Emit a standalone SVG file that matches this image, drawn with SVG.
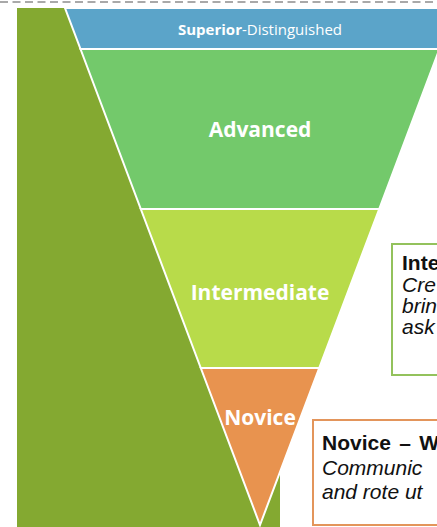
<svg xmlns="http://www.w3.org/2000/svg" width="437" height="527" viewBox="0 0 437 527">
  <style>
    .band { stroke: #ffffff; stroke-width: 2; stroke-linejoin: miter; }
    .lvl { font-family: "Open Sans", "Liberation Sans", sans-serif; font-weight: bold; fill: #ffffff; text-anchor: middle; }
    .box { fill: #ffffff; stroke-width: 2; }
    .head { font-family: "Liberation Sans", Arial, sans-serif; font-weight: bold; font-size: 21px; fill: #111111; }
    .desc { font-family: "Liberation Sans", Arial, sans-serif; font-style: italic; font-size: 21px; fill: #111111; }
  </style>
  <rect x="0" y="0" width="437" height="527" fill="#ffffff"/>
  <line x1="0" y1="2" x2="437" y2="2" stroke="#a9a9a9" stroke-width="2" stroke-dasharray="8 4.5"/>

  <g id="background">
    <rect x="17" y="8" width="263" height="519" fill="#84a931"/>
  </g>

  <g id="superior">
    <polygon class="band" points="65,8 455,8 439.5,49 80.5,49" fill="#5ba4c9"/>
    <text class="lvl" x="260" y="35" font-size="15"><tspan font-weight="bold">Superior</tspan><tspan font-weight="normal">-Distinguished</tspan></text>
  </g>

  <g id="advanced">
    <polygon class="band" points="80.5,49 439.5,49 379.2,209 140.8,209" fill="#73c96b"/>
    <text class="lvl" x="260" y="137" font-size="21">Advanced</text>
  </g>

  <g id="intermediate">
    <polygon class="band" points="140.8,209 379.2,209 319.2,368 200.8,368" fill="#b8db4a"/>
    <text class="lvl" x="260" y="300" font-size="21">Intermediate</text>
  </g>

  <g id="novice">
    <polygon class="band" points="200.8,368 319.2,368 260,525" fill="#e8934f"/>
    <text class="lvl" x="260" y="425" font-size="21">Novice</text>
  </g>

  <g id="intermediate-box">
    <rect class="box" x="392" y="244" width="60" height="131" stroke="#93c25c"/>
    <text class="head" x="402" y="270">Inte</text>
    <text class="desc" x="402" y="292">Cre</text>
    <text class="desc" x="402" y="313">brin</text>
    <text class="desc" x="402" y="334">ask</text>
  </g>

  <g id="novice-box">
    <rect class="box" x="313" y="420" width="140" height="105" stroke="#e3955b"/>
    <text class="head" x="322" y="450" font-size="22" word-spacing="2.5">Novice – W</text>
    <text class="desc" x="322" y="475" font-size="22">Communic</text>
    <text class="desc" x="322" y="499" font-size="22">and rote ut</text>
  </g>

  <g id="connectors"></g>
</svg>
